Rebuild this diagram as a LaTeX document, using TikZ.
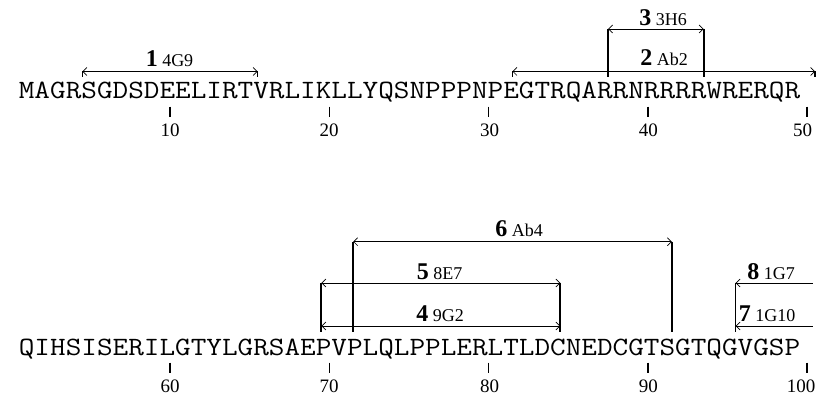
\documentclass[tikz,border=0pt]{standalone}
\usepackage{fontspec}
\usepackage{graphicx}
\setmainfont{Liberation Serif}
\usetikzlibrary{arrows.meta}
\newcommand{\eplab}[2]{{\fontsize{24}{24}\selectfont\bfseries #1}\ #2}
\newcommand{\seqstr}[1]{\scalebox{1.1494}[1]{\ttfamily\fontsize{26.4}{26.4}\selectfont #1}}
\begin{document}
\begin{tikzpicture}[x=1pt,y=1pt,
  seqtext/.style={anchor=base west, inner sep=0pt},
  numtext/.style={font=\fontsize{19}{19}\selectfont, anchor=base, inner sep=0pt},
  labtext/.style={font=\fontsize{18}{18}\selectfont, anchor=base, inner sep=0pt},
  tickline/.style={line width=1.6pt},
  barline/.style={line width=1.7pt},
  spanline/.style={line width=0.7pt, {Straight Barb[length=4pt,width=8pt]}-{Straight Barb[length=4pt,width=8pt]}},
  openline/.style={line width=0.7pt, {Straight Barb[length=4pt,width=8pt]}-},
]
\useasboundingbox (0,0) rectangle (829,396);
% sequences
\node[seqtext] (seqA) at (18.67,297) {\seqstr{MAGRSGDSDEELIRTVRLIKLLYQSNPPPNPEGTRQARRNRRRRWRERQR}};
\node[seqtext] (seqB) at (18.67,41) {\seqstr{QIHSISERILGTYLGRSAEPVPLQLPPLERLTLDCNEDCGTSGTQGVGSP}};
% ticks and numbers
\foreach \n/\nx in {10/170,20/329,30/489.5,40/648.3,50/802.5} {
  \coordinate (ta\n) at ({10.7+15.93*\n},289.3);
  \coordinate (tb\n) at ({10.7+15.93*\n},278.7);
  \draw[tickline] (ta\n) -- (tb\n);
  \node[numtext] (num\n) at (\nx,259.3) {\n};
}
\foreach \n/\nx in {60/170,70/329,80/489.5,90/648.3,100/801} {
  \coordinate (ta\n) at ({10.7+15.93*(\n-50)},33.3);
  \coordinate (tb\n) at ({10.7+15.93*(\n-50)},22.7);
  \draw[tickline] (ta\n) -- (tb\n);
  \node[numtext] (num\n) at (\nx,3.3) {\n};
}
% epitope 1 (5-15)
\coordinate (e1l) at ({2.735+15.93*5},324.5);
\coordinate (e1r) at ({18.67+15.93*15},324.5);
\coordinate (e1lb) at ({2.735+15.93*5},319);
\coordinate (e1rb) at ({18.67+15.93*15},319);
\draw[barline] (e1l) -- (e1lb);
\draw[barline] (e1r) -- (e1rb);
\draw[spanline] (e1l) -- (e1r);
\node[labtext] (l1) at (169.5,329.5) {\eplab{1}{4G9}};
% epitope 2 (32-50)
\coordinate (e2l) at ({2.735+15.93*32},324.5);
\coordinate (e2r) at ({18.67+15.93*50},324.5);
\coordinate (e2lb) at ({2.735+15.93*32},319);
\coordinate (e2rb) at ({18.67+15.93*50},319);
\draw[barline] (e2l) -- (e2lb);
\draw[barline] (e2r) -- (e2rb);
\draw[spanline] (e2l) -- (e2r);
\node[labtext] (l2) at (664,330.5) {\eplab{2}{Ab2}};
% epitope 3 (38-43)
\coordinate (e3l) at ({2.735+15.93*38},367);
\coordinate (e3r) at ({18.67+15.93*43},367);
\coordinate (e3lb) at ({2.735+15.93*38},319);
\coordinate (e3rb) at ({18.67+15.93*43},319);
\draw[barline] (e3l) -- (e3lb);
\draw[barline] (e3r) -- (e3rb);
\draw[spanline] (e3l) -- (e3r);
\node[labtext] (l3) at (663,370.5) {\eplab{3}{3H6}};
% epitope 6 (72-91)
\coordinate (e6l) at ({2.735+15.93*22},154.3);
\coordinate (e6r) at ({18.67+15.93*41},154.3);
\coordinate (e6lb) at ({2.735+15.93*22},64);
\coordinate (e6rb) at ({18.67+15.93*41},64);
\draw[barline] (e6l) -- (e6lb);
\draw[barline] (e6r) -- (e6rb);
\draw[spanline] (e6l) -- (e6r);
\node[labtext] (l6) at (519,159.5) {\eplab{6}{Ab4}};
% epitopes 5 and 4 (70-84)
\coordinate (e5l) at ({2.735+15.93*20},113);
\coordinate (e5r) at ({18.67+15.93*34},113);
\coordinate (e4l) at ({2.735+15.93*20},70);
\coordinate (e4r) at ({18.67+15.93*34},70);
\coordinate (e5lb) at ({2.735+15.93*20},64);
\coordinate (e5rb) at ({18.67+15.93*34},64);
\draw[barline] (e5l) -- (e5lb);
\draw[barline] (e5r) -- (e5rb);
\draw[spanline] (e5l) -- (e5r);
\draw[spanline] (e4l) -- (e4r);
\node[labtext] (l5) at (439.5,116.5) {\eplab{5}{8E7}};
\node[labtext] (l4) at (440,74.5) {\eplab{4}{9G2}};
% epitopes 8 and 7 (96-)
\coordinate (e8l) at ({2.735+15.93*46},113);
\coordinate (e8r) at (813,113);
\coordinate (e7l) at ({2.735+15.93*46},70);
\coordinate (e7r) at (813,70);
\coordinate (e8lb) at ({2.735+15.93*46},64);
\draw[barline] (e8l) -- (e8lb);
\draw[openline] (e8l) -- (e8r);
\draw[openline] (e7l) -- (e7r);
\node[labtext] (l8) at (771,116.5) {\eplab{8}{1G7}};
\node[labtext] (l7) at (767,74.5) {\eplab{7}{1G10}};
\end{tikzpicture}
\end{document}
